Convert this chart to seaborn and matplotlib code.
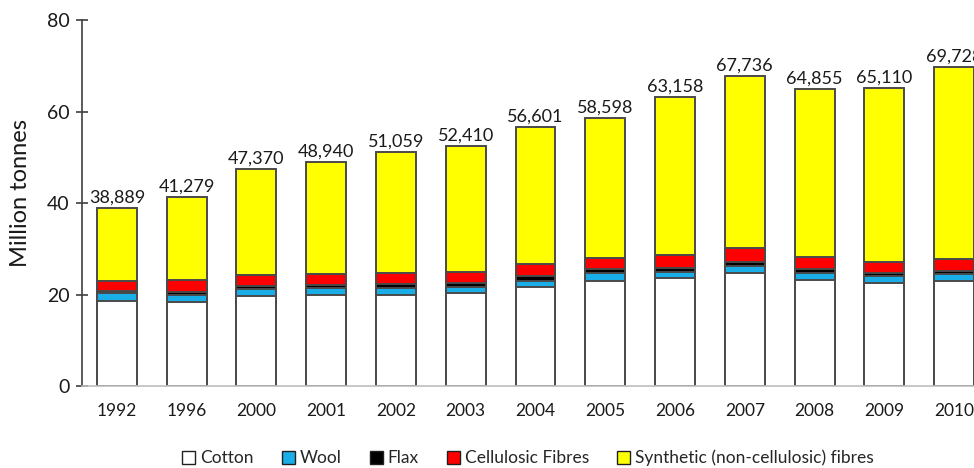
import matplotlib
matplotlib.use("Agg")
import matplotlib.pyplot as plt
import seaborn as sns
import numpy as np
from matplotlib.patches import Patch

sns.set_theme(style="white")
plt.rcParams["font.family"] = ["Lato", "DejaVu Sans"]

years = ["1992", "1996", "2000", "2001", "2002", "2003", "2004",
         "2005", "2006", "2007", "2008", "2009", "2010"]
totals = [38.889, 41.279, 47.370, 48.940, 51.059, 52.410, 56.601,
          58.598, 63.158, 67.736, 64.855, 65.110, 69.728]
total_labels = ["38,889", "41,279", "47,370", "48,940", "51,059", "52,410", "56,601",
                "58,598", "63,158", "67,736", "64,855", "65,110", "69,728"]
cotton = [18.6, 18.4, 19.7, 19.8, 20.0, 20.3, 21.6, 23.0, 23.6, 24.6, 23.2, 22.6, 22.9]
wool = [1.8, 1.6, 1.6, 1.6, 1.5, 1.4, 1.4, 1.6, 1.4, 1.6, 1.6, 1.4, 1.5]
flax = [0.4, 0.5, 0.6, 0.6, 0.8, 0.9, 1.0, 0.9, 0.9, 0.8, 0.7, 0.8, 0.7]
cellulosic = [2.2, 2.7, 2.3, 2.5, 2.3, 2.3, 2.6, 2.5, 2.7, 3.1, 2.8, 2.3, 2.7]

# synthetic fibres make up the rest of each labelled total
lower = np.array(cotton) + np.array(wool) + np.array(flax) + np.array(cellulosic)
synthetic = np.array(totals) - lower

series = [
    ("Cotton", cotton, "#FFFFFF"),
    ("Wool", wool, "#1AAEE8"),
    ("Flax", flax, "#000000"),
    ("Cellulosic Fibres", cellulosic, "#FF0000"),
    ("Synthetic (non-cellulosic) fibres", list(synthetic), "#FFFF00"),
]

fig = plt.figure(figsize=(9.74, 4.68), dpi=100)
ax = fig.add_axes([82 / 974, 82 / 468, 907 / 974, 366 / 468])

# stacked bars: draw cumulative heights from the top layer down
cums = np.cumsum([np.array(v) for _, v, _ in series], axis=0)
containers = []
for i in range(len(series) - 1, -1, -1):
    name, _, col = series[i]
    sns.barplot(x=years, y=cums[i], color=col, saturation=1, width=0.573,
                edgecolor="#4a4a4a", linewidth=1.4, ax=ax, order=years)
    containers.append(ax.containers[-1])

ax.bar_label(containers[0], labels=total_labels, padding=2, fontsize=13, color="#1a1a1a")

ax.set_ylim(0, 80)
ax.set_xlim(-0.5, 12.5)
ax.set_yticks([0, 20, 40, 60, 80])
ax.set_ylabel("Million tonnes", fontsize=17, color="#1a1a1a", labelpad=11, y=0.527)
ax.set_xlabel("")
ax.tick_params(axis="y", direction="inout", length=8, width=1.2, color="#404040",
               labelsize=14, labelcolor="#1a1a1a", pad=5, left=True)
ax.tick_params(axis="x", length=0, labelsize=12.5, labelcolor="#1a1a1a", pad=12)
for s in ["top", "right"]:
    ax.spines[s].set_visible(False)
ax.spines["left"].set_color("#404040")
ax.spines["left"].set_linewidth(1.2)
ax.spines["bottom"].set_color("#BFBFBF")
ax.spines["bottom"].set_linewidth(1.2)

handles = [Patch(facecolor=c, edgecolor="#202020", linewidth=1.0, label=n) for n, _, c in series]
fig.legend(handles=handles, loc="center", bbox_to_anchor=(528 / 974, 1 - 458 / 468),
           ncol=5, frameon=False, fontsize=12.5, handlelength=0.75, handleheight=0.75,
           handletextpad=0.3, columnspacing=1.6)

fig.savefig("out.png", dpi=100)
